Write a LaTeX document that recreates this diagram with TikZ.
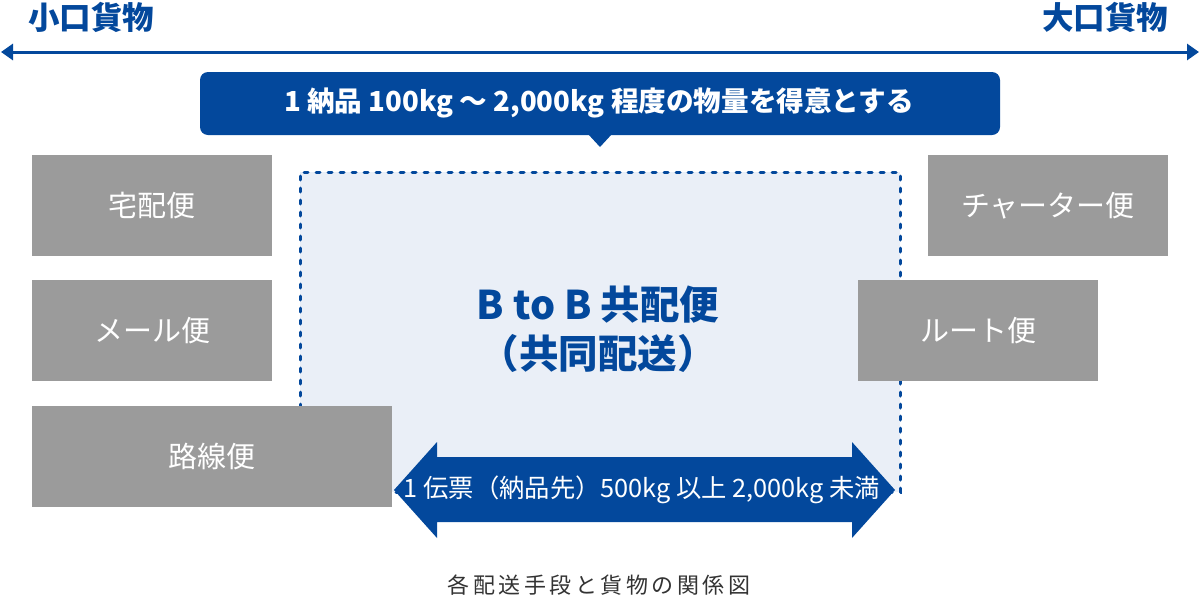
\documentclass[tikz,border=0pt]{standalone}
\usepackage{fontspec}
\setmainfont{Noto Sans CJK JP}
\usetikzlibrary{arrows.meta}
\definecolor{mainblue}{HTML}{03489C}
\definecolor{lightfill}{HTML}{EAEFF7}
\definecolor{boxgray}{HTML}{9B9B9B}
\definecolor{captiongray}{HTML}{333333}
\tikzset{
  graybox/.style={fill=boxgray, draw=none, minimum height=101pt, inner sep=0pt, text=white, font=\fontsize{29}{34}\selectfont},
  endlabel/.style={text=mainblue, font=\fontsize{31.5}{36}\selectfont\bfseries, inner sep=0pt},
}
\begin{document}
\begin{tikzpicture}[x=1pt,y=-1pt]
\useasboundingbox (0,0) rectangle (1200,600);
% axis
\coordinate (axL) at (1,52);
\coordinate (axR) at (1199,52);
\draw[mainblue, line width=3pt, {Triangle[length=12pt,width=16pt]}-{Triangle[length=12pt,width=16pt]}] (axL) -- (axR);
\node[endlabel] (small) at (91,17) {小口貨物};
\node[endlabel] (large) at (1105,17) {大口貨物};
% callout
\fill[mainblue, rounded corners=8pt] (200,72) rectangle (1000,135);
\fill[mainblue] (588,134) -- (612,134) -- (600,147) -- cycle;
\node[text=white, font=\fontsize{27.6}{32}\selectfont\bfseries, inner sep=0pt] (callout) at (599,103) {1 納品 100kg ～ 2,000kg 程度の物量を得意とする};
% dotted region
\node[draw=mainblue, fill=lightfill, line width=3pt, dash pattern=on 4pt off 8pt, line cap=round, minimum width=600pt, minimum height=320pt, inner sep=0pt] (region) at (600,332) {};
\node[text=mainblue, font=\fontsize{39.5}{44}\selectfont\bfseries, inner sep=0pt] (btob) at (598,305) {B to B 共配便};
\node[text=mainblue, font=\fontsize{39.5}{44}\selectfont\bfseries, inner sep=0pt] (kyodo) at (598,353) {（共同配送）};
% gray boxes
\node[graybox, minimum width=240pt] (takuhai) at (152,205.5) {宅配便};
\node[graybox, minimum width=240pt] (mail) at (152,330.5) {メール便};
\node[graybox, minimum width=360pt] (rosen) at (212,456.5) {路線便};
\node[graybox, minimum width=240pt] (charter) at (1048,205.5) {チャーター便};
\node[graybox, minimum width=240pt] (route) at (978,330.5) {ルート便};
% double arrow
\fill[mainblue] (394,490) -- (437,442) -- (437,457) -- (852,457) -- (852,442) -- (895,490) -- (852,538) -- (852,522) -- (437,522) -- (437,538) -- cycle;
\node[text=white, font=\fontsize{25.3}{30}\selectfont, inner sep=0pt] (range) at (642,490) {1 伝票（納品先）500kg 以上 2,000kg 未満};
% caption
\node[text=captiongray, font=\fontsize{22}{26}\selectfont, inner sep=0pt] (caption) at (599,585) {各\kern3.5pt 配\kern3.5pt 送\kern3.5pt 手\kern3.5pt 段\kern3.5pt と\kern3.5pt 貨\kern3.5pt 物\kern3.5pt の\kern3.5pt 関\kern3.5pt 係\kern3.5pt 図};
\end{tikzpicture}
\end{document}
